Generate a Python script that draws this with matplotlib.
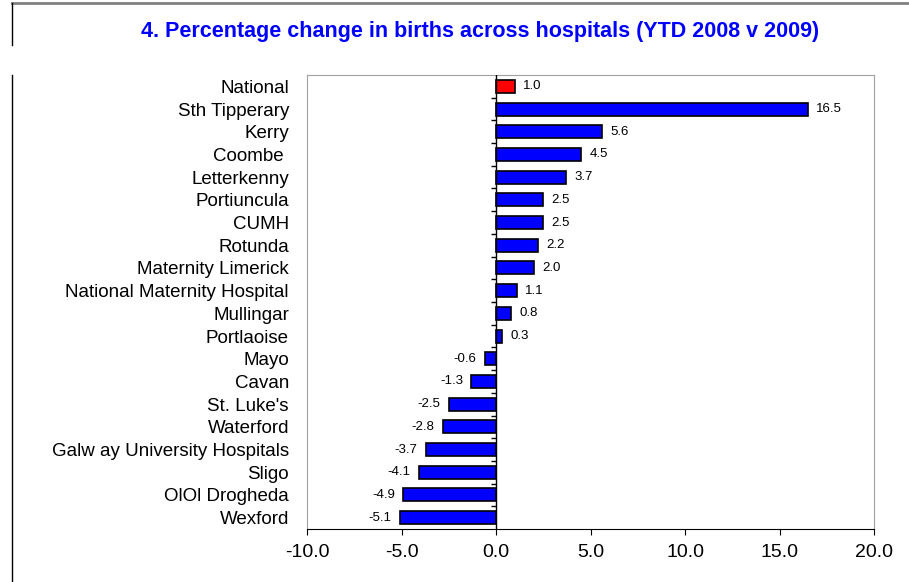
import matplotlib.pyplot as plt
from matplotlib.lines import Line2D
import numpy as np

plt.rcParams['font.family'] = ['Liberation Sans', 'DejaVu Sans']

hospitals = ['National', 'Sth Tipperary', 'Kerry', 'Coombe ', 'Letterkenny',
             'Portiuncula', 'CUMH', 'Rotunda', 'Maternity Limerick',
             'National Maternity Hospital', 'Mullingar', 'Portlaoise', 'Mayo',
             'Cavan', "St. Luke's", 'Waterford',
             'Galw ay University Hospitals', 'Sligo', 'OlOl Drogheda',
             'Wexford']
pct_change = [1.0, 16.5, 5.6, 4.5, 3.7, 2.5, 2.5, 2.2, 2.0, 1.1, 0.8, 0.3,
              -0.6, -1.3, -2.5, -2.8, -3.7, -4.1, -4.9, -5.1]
xticks = [-10.0, -5.0, 0.0, 5.0, 10.0, 15.0, 20.0]

fig = plt.figure(figsize=(9.09, 5.82), dpi=100)

# outer frame lines (title box and chart box)
fig.add_artist(Line2D([12/909, 1], [1-3/582, 1-3/582], color='#808080', lw=2))
fig.add_artist(Line2D([12/909, 12/909], [1-3/582, 1-45/582], color='black', lw=1))
fig.add_artist(Line2D([12/909, 12/909], [1-75/582, 0], color='black', lw=1))

fig.text(0.5286, 1-32/582, '4. Percentage change in births across hospitals (YTD 2008 v 2009)',
         color='#0000FF', fontsize=15.5, fontweight='bold', ha='center', va='center')

ax = fig.add_axes([307/909, 1-529/582, (874-307)/909, (529-75)/582])
y = np.arange(len(hospitals))
colors = ['#FF0000'] + ['#0000FF'] * (len(hospitals) - 1)
ax.barh(y, pct_change, height=0.57, color=colors, edgecolor='black', lw=1.2, zorder=2)

for yi, v in zip(y, pct_change):
    if v >= 0:
        ax.text(v + 0.45, yi, f'{v:.1f}', ha='left', va='center', fontsize=9.5)
    else:
        ax.text(v - 0.45, yi, f'{v:.1f}', ha='right', va='center', fontsize=9.5)

ax.set_xlim(-10, 20)
ax.set_ylim(len(hospitals) - 0.5, -0.5)
ax.axvline(0, color='black', lw=1, zorder=3)
ax.hlines(y[:-1] + 0.5, -0.28, 0, color='black', lw=1, zorder=3)

ax.set_xticks(xticks)
ax.set_xticklabels([f'{t:.1f}' for t in xticks], fontsize=14)
ax.set_yticks(y)
ax.set_yticklabels(hospitals, fontsize=13.5)
ax.tick_params(axis='y', length=0, pad=13)
ax.tick_params(axis='x', length=4, direction='out', pad=7)

for s in ['left', 'top', 'right']:
    ax.spines[s].set_color('#a0a0a0')
ax.spines['bottom'].set_color('black')

fig.savefig('out.png', dpi=100)
